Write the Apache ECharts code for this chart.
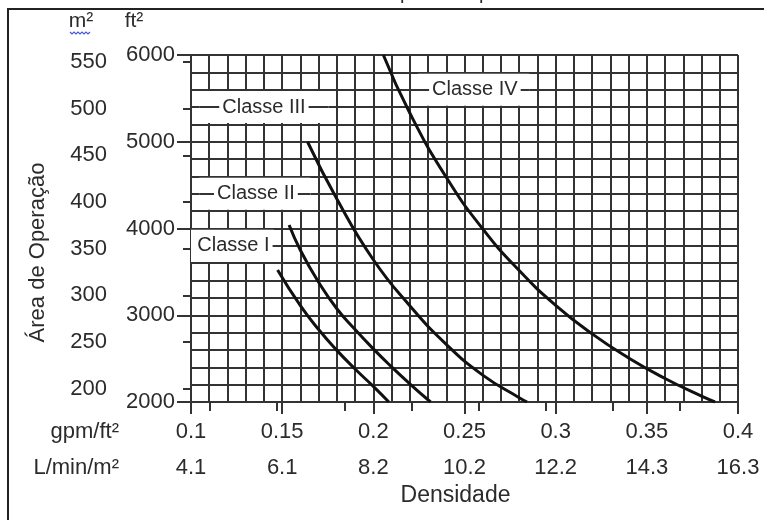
<!DOCTYPE html>
<html><head><meta charset="utf-8">
<script src="https://cdn.jsdelivr.net/npm/echarts@6/dist/echarts.min.js"></script>
<style>html,body{margin:0;padding:0;background:#fff}#c{width:764px;height:520px}</style>
</head><body><div id="c"></div><script>
// ---- data ----
const gpmTicks = [0.1, 0.15, 0.2, 0.25, 0.3, 0.35, 0.4];
const gpmLabels = ['0.1', '0.15', '0.2', '0.25', '0.3', '0.35', '0.4'];
const lpmLabels = ['4.1', '6.1', '8.2', '10.2', '12.2', '14.3', '16.3'];
const lpmMinorTicks = [4.5, 6, 7.5, 9, 10.5, 12, 13.5, 15];
const ftTicks = [2000, 3000, 4000, 5000, 6000];
const m2Ticks = [200, 250, 300, 350, 400, 450, 500, 550];

const classIDensity = [0.1475, 0.16, 0.17, 0.18, 0.19, 0.20, 0.2085];
const classIArea = [3522, 3110, 2835, 2595, 2380, 2180, 2000];
const classIIDensity = [0.1538, 0.16, 0.17, 0.18, 0.19, 0.20, 0.21, 0.22, 0.2314];
const classIIArea = [4040, 3750, 3380, 3075, 2835, 2612, 2405, 2210, 2000];
const classIIIDensity = [0.1639, 0.18, 0.20, 0.22, 0.24, 0.26, 0.28, 0.2843];
const classIIIArea = [5000, 4340, 3640, 3110, 2665, 2310, 2050, 2000];
const classIVDensity = [0.2055, 0.22, 0.24, 0.26, 0.28, 0.30, 0.32, 0.34, 0.36, 0.38, 0.3874];
const classIVArea = [6000, 5331, 4590, 3995, 3515, 3115, 2785, 2508, 2271, 2067, 2000];

const classNames = ['Classe I', 'Classe II', 'Classe III', 'Classe IV'];
// label anchor (density, area) and white box extents in data units
const labelDensity = [0.1233, 0.1356, 0.1400, 0.2557];
const labelArea = [3800, 4400, 5400, 5600];
const boxDensityFrom = [0.0965, 0.1045, 0.1045, 0.2245];
const boxDensityTo = [0.1455, 0.1655, 0.1755, 0.2855];

const FT2_PER_M2 = 10.7639;
const LPM_PER_GPM = 40.746;

// ---- build ----
const GRID = '#333';
const FONT = 'Liberation Sans, Arial, sans-serif';
const TXT = '#2b2b2b';

function pairs(xs, ys) { return xs.map((x, i) => [x, ys[i]]); }
function idxOf(arr, v) { return arr.findIndex(t => Math.abs(t - v) < 1e-6); }

const curves = [
  pairs(classIDensity, classIArea),
  pairs(classIIDensity, classIIArea),
  pairs(classIIIDensity, classIIIArea),
  pairs(classIVDensity, classIVArea)
];

const areaData = classNames.map((n, i) => [
  { coord: [boxDensityFrom[i], labelArea[i] + 185] },
  { coord: [boxDensityTo[i], labelArea[i] - 185] }
]);
const midLines = classNames.map((n, i) => [
  { coord: [boxDensityFrom[i] < 0.1 ? labelDensity[i] : boxDensityFrom[i], labelArea[i]] },
  { coord: [boxDensityTo[i], labelArea[i]] }
]);
const pointData = classNames.map((n, i) => ({ name: n, coord: [labelDensity[i], labelArea[i]] }));

const series = curves.map((d, i) => ({
  name: classNames[i], type: 'line', data: d, smooth: 0.5, showSymbol: false,
  xAxisIndex: 0, yAxisIndex: 0,
  lineStyle: { color: '#111', width: 3 }, z: 6, silent: true
}));
series.push({
  type: 'line', data: [], silent: true, xAxisIndex: 0, yAxisIndex: 0,
  markArea: { silent: true, z: 3, itemStyle: { color: '#fff', opacity: 1, borderWidth: 0 }, label: { show: false }, data: areaData },
  markLine: { silent: true, z: 4, symbol: 'none', label: { show: false }, lineStyle: { color: GRID, width: 2, type: 'solid' }, data: midLines },
  markPoint: {
    silent: true, z: 5, symbol: 'rect', symbolSize: 1, itemStyle: { color: 'rgba(0,0,0,0)' },
    label: { show: true, position: 'inside', formatter: '{b}', color: TXT, fontFamily: FONT, fontSize: 20, backgroundColor: '#fff', padding: [1, 3] },
    data: pointData
  }
});

const tickStyle = { color: GRID, width: 2 };
const labelStyle = { color: TXT, fontFamily: FONT, fontSize: 22 };

const chart = echarts.init(document.getElementById('c'), null, { renderer: 'canvas' });
chart.setOption({
  animation: false,
  backgroundColor: '#fff',
  grid: { left: 191, right: 26, top: 55, bottom: 118, containLabel: false },
  xAxis: [
    { // grid lines every 0.01 gpm/ft²
      type: 'value', min: 0.1, max: 0.4, interval: 0.01, position: 'bottom',
      axisLine: { show: true, lineStyle: tickStyle },
      splitLine: { show: true, lineStyle: { color: GRID, width: 2 } },
      axisTick: { show: false }, axisLabel: { show: false }
    },
    { // gpm/ft² labels
      type: 'value', min: 0.1, max: 0.4, position: 'bottom', offset: 0,
      axisLine: { show: false }, splitLine: { show: false },
      axisTick: { show: true, customValues: gpmTicks, length: 12, lineStyle: tickStyle },
      axisLabel: Object.assign({ customValues: gpmTicks, margin: 19, formatter: v => gpmLabels[idxOf(gpmTicks, v)] }, labelStyle)
    },
    { // L/min/m² labels
      type: 'value', min: 0.1, max: 0.4, position: 'bottom', offset: 0,
      name: 'Densidade', nameLocation: 'middle', nameGap: 80,
      nameTextStyle: { color: TXT, fontFamily: FONT, fontSize: 23, padding: [0, 18, 0, 0] },
      axisLine: { show: false }, splitLine: { show: false },
      axisTick: { show: true, customValues: lpmMinorTicks.map(v => v / LPM_PER_GPM), length: 9, lineStyle: tickStyle },
      axisLabel: Object.assign({ customValues: gpmTicks, margin: 55, formatter: v => lpmLabels[idxOf(gpmTicks, v)] }, labelStyle)
    }
  ],
  yAxis: [
    { // grid lines every 200 ft²
      type: 'value', min: 2000, max: 6000, interval: 200, position: 'left',
      axisLine: { show: true, lineStyle: tickStyle },
      splitLine: { show: true, lineStyle: { color: GRID, width: 2 } },
      axisTick: { show: false }, axisLabel: { show: false }
    },
    { // ft² labels
      type: 'value', min: 2000, max: 6000, position: 'left', offset: 0,
      axisLine: { show: false }, splitLine: { show: false },
      axisTick: { show: true, customValues: ftTicks, length: 14, lineStyle: tickStyle },
      axisLabel: Object.assign({ customValues: ftTicks, margin: 16, formatter: v => String(Math.round(v)) }, labelStyle)
    },
    { // m² labels
      type: 'value', min: 2000 / FT2_PER_M2, max: 6000 / FT2_PER_M2, position: 'left', offset: 0,
      name: 'Área de Operação', nameLocation: 'middle', nameGap: 142,
      nameTextStyle: { color: TXT, fontFamily: FONT, fontSize: 22, padding: [0, 48, 0, 0] },
      axisLine: { show: false }, splitLine: { show: false },
      axisTick: { show: true, customValues: m2Ticks, length: 8, lineStyle: tickStyle },
      axisLabel: Object.assign({ customValues: m2Ticks, margin: 84, formatter: v => String(Math.round(v)) }, labelStyle)
    }
  ],
  graphic: [
    { type: 'polyline', shape: { points: [[8, 520], [8, 9], [764, 9]] }, style: { stroke: '#222', lineWidth: 2, fill: null } },
    { type: 'text', x: 390, y: -17, style: { text: 'Curvas de densidade/área para temperatura normal', font: '20px ' + FONT, fill: TXT, textAlign: 'center' } },
    { type: 'text', x: 81, y: 21, style: { text: 'm²', font: '21px ' + FONT, fill: TXT, textAlign: 'center', textVerticalAlign: 'middle' } },
    { type: 'polyline', shape: { points: [[70,32],[72,34],[74,32],[76,34],[78,32],[80,34],[82,32],[84,34],[86,32],[88,34],[90,32]] }, style: { stroke: '#4a5bd4', lineWidth: 1.2, fill: null } },
    { type: 'text', x: 134, y: 21, style: { text: 'ft²', font: '21px ' + FONT, fill: TXT, textAlign: 'center', textVerticalAlign: 'middle' } },
    { type: 'text', x: 119, y: 432, style: { text: 'gpm/ft²', font: '22px ' + FONT, fill: TXT, textAlign: 'right', textVerticalAlign: 'middle' } },
    { type: 'text', x: 119, y: 468, style: { text: 'L/min/m²', font: '22px ' + FONT, fill: TXT, textAlign: 'right', textVerticalAlign: 'middle' } }
  ],
  series: series
});
</script></body></html>
